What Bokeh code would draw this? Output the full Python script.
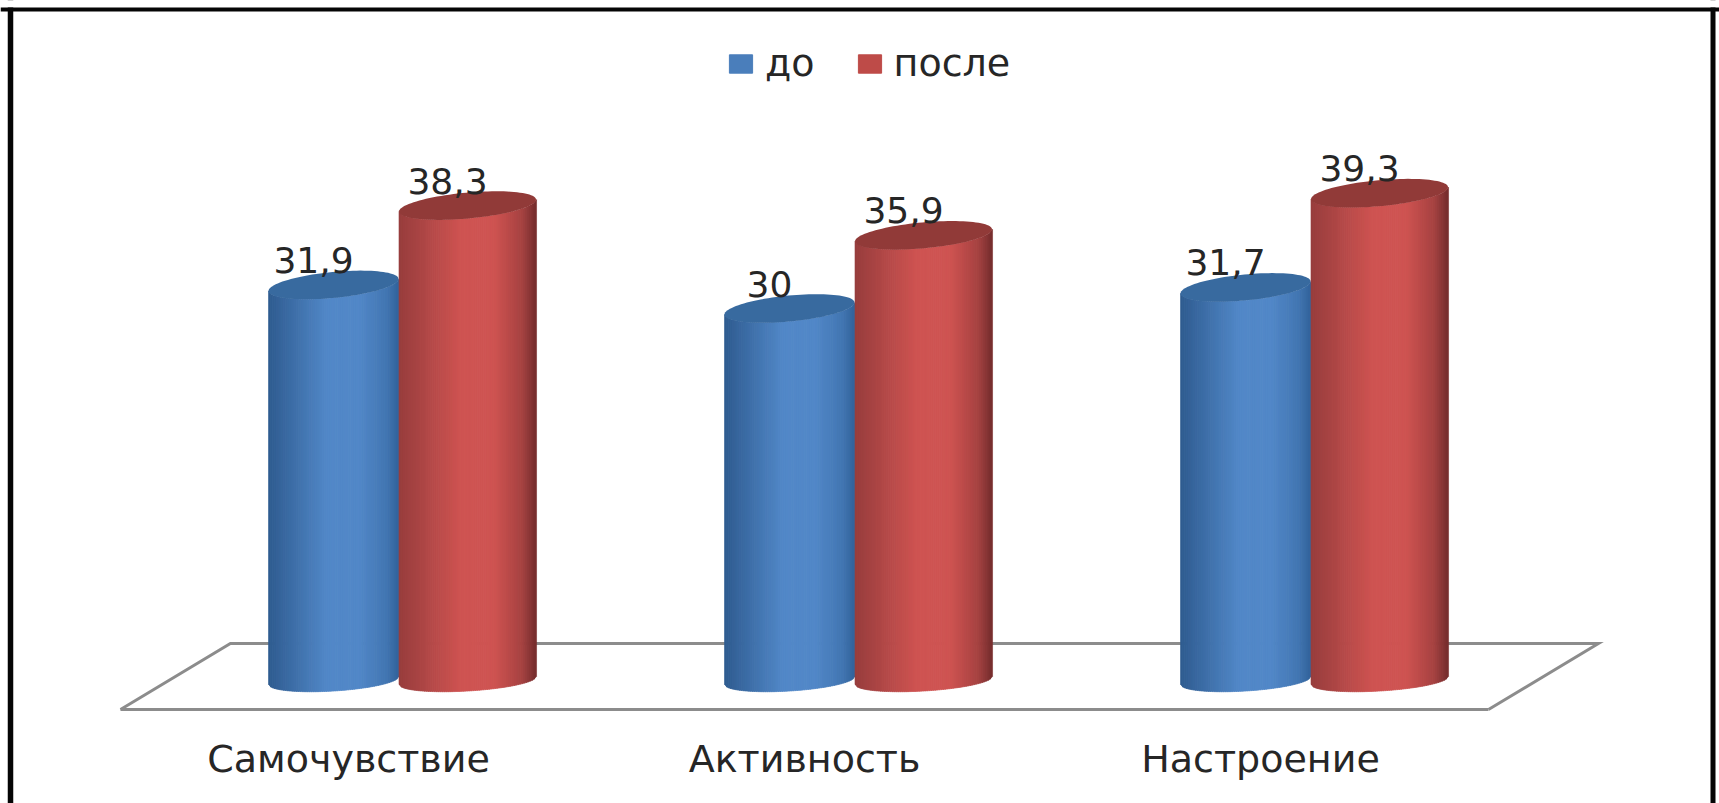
import numpy as np
from bokeh.plotting import figure
from bokeh.embed import file_html
from bokeh.resources import INLINE
from bokeh.models import (ColumnDataSource, FixedTicker, Legend, LegendItem,
                          LinearAxis, Range1d, Span)
from bokeh.core.properties import value

categories = ["Самочувствие", "Активность", "Настроение"]
before_values = [31.9, 30.0, 31.7]
after_values = [38.3, 35.9, 39.3]
before_labels = ["31,9", "30", "31,7"]
after_labels = ["38,3", "35,9", "39,3"]
series_names = ["до", "после"]

FONT = "DejaVu Sans"
W, H = 1719, 803
PX_PER_CAT = 456.0
PX_PER_VAL = 12.4
x0 = 348.0
y0 = 680.0

p = figure(
    width=W, height=H, output_backend="svg", toolbar_location=None,
    x_range=Range1d(-x0 / PX_PER_CAT, (W - x0) / PX_PER_CAT),
    y_range=Range1d(-(H - y0) / PX_PER_VAL, y0 / PX_PER_VAL),
    x_axis_type=None, y_axis_type=None,
    min_border=0, min_border_left=0, min_border_right=0,
    min_border_top=0, min_border_bottom=0,
    background_fill_color="white", border_fill_color="white",
    outline_line_color=None,
)
p.grid.visible = False

# page frame: three sides are visible, the strip above the top side stays white
for loc, dim, w, col in [(10, "height", 5.5, "#050505"), (1712.5, "height", 5, "#050505"),
                         (H - 3.5, "width", 7, "white"), (H - 9, "width", 4, "#050505")]:
    p.add_layout(Span(location=loc, location_units="screen", dimension=dim,
                      line_color=col, line_width=w))

# floor of the 3-D chart, in data units
FLOOR_FRONT = -29.0 / PX_PER_VAL
FLOOR_BACK = 37.0 / PX_PER_VAL
p.line([-0.5, -0.259, 2.741, 2.5], [FLOOR_FRONT, FLOOR_BACK, FLOOR_BACK, FLOOR_FRONT],
       line_color="#8c8c8c", line_width=3, line_join="miter")

# category axis sits on the front edge of the floor
axis = LinearAxis(fixed_location=FLOOR_FRONT, bounds=(-0.5, 2.5),
                  ticker=FixedTicker(ticks=[0, 1, 2]),
                  major_label_overrides={i: c for i, c in enumerate(categories)})
axis.axis_line_color = "#8c8c8c"
axis.axis_line_width = 3
axis.major_tick_line_color = None
axis.minor_tick_line_color = None
axis.major_label_standoff = 21
axis.major_label_text_font = FONT
axis.major_label_text_font_size = "38px"
axis.major_label_text_color = "#262626"
p.add_layout(axis, "below")

BLUE = dict(edge_l="#2f5c90", mid="#5288c8", edge_r="#33649c", top="#386a9f", center=-15 / 456, half=65.0 / 456)
RED = dict(edge_l="#983e3e", mid="#cf5452", edge_r="#752d2d", top="#913a38", center=119 / 456, half=68.5 / 456)
B_TOP, S_TOP = 13.0 / PX_PER_VAL, 6.0 / PX_PER_VAL
B_BOT, S_BOT = 10.5 / PX_PER_VAL, 4.0 / PX_PER_VAL


def hex2rgb(h):
    return np.array([int(h[i:i + 2], 16) for i in (1, 3, 5)], float)


def draw_cylinder(cat_idx, val, st):
    cx = cat_idx + st["center"]
    n = 70
    t = np.linspace(-1, 1, n + 1)
    xs_edge = cx + st["half"] * t
    arc = np.sqrt(np.clip(1 - t ** 2, 0, 1))
    y_top = val + S_TOP * t - B_TOP * arc
    y_bot = S_BOT * t - B_BOT * arc
    xs, ys, cols = [], [], []
    cl, cm, cr = hex2rgb(st["edge_l"]), hex2rgb(st["mid"]), hex2rgb(st["edge_r"])
    for i in range(n):
        xs.append([xs_edge[i], xs_edge[i + 1] + 0.0012, xs_edge[i + 1] + 0.0012, xs_edge[i]])
        ys.append([y_top[i], y_top[min(i + 1, n)], y_bot[min(i + 1, n)], y_bot[i]])
        u = (t[i] + t[i + 1]) / 2
        c = [np.interp(u, [-1, -0.1, 0.4, 0.8, 1],
                       [cl[k], cm[k], cm[k], 0.55 * cm[k] + 0.45 * cr[k], cr[k]]) for k in range(3)]
        cols.append("#%02x%02x%02x" % tuple(int(v) for v in c))
    p.patches(xs, ys, fill_color=cols, line_color=cols, line_width=0.6)
    th = np.linspace(0, 2 * np.pi, 100)
    p.patch(cx + st["half"] * np.cos(th),
            val + S_TOP * np.cos(th) + B_TOP * np.sin(th),
            fill_color=st["top"], line_color=None)


for i in range(len(categories)):
    draw_cylinder(i, before_values[i], BLUE)
    draw_cylinder(i, after_values[i], RED)

LABEL_DX = -20 / 456
LABEL_DY = 25.0 / PX_PER_VAL
src = ColumnDataSource(dict(
    x=[i + BLUE["center"] + LABEL_DX for i in range(3)] + [i + RED["center"] + LABEL_DX for i in range(3)],
    y=[v + LABEL_DY for v in before_values + after_values],
    t=before_labels + after_labels,
))
p.text("x", "y", text="t", source=src, text_align="center", text_baseline="alphabetic",
       text_font=value(FONT), text_font_size="36px", text_color="#262626")

# legend swatches: the marks themselves lie outside the visible range
r_blue = p.quad(left=[-90], right=[-89], top=[-90], bottom=[-91], fill_color="#4a7ebb", line_color="#4a7ebb")
r_red = p.quad(left=[-90], right=[-89], top=[-90], bottom=[-91], fill_color="#be4b48", line_color="#be4b48")
legend = Legend(items=[LegendItem(label=series_names[0], renderers=[r_blue]),
                       LegendItem(label=series_names[1], renderers=[r_red])],
                orientation="horizontal", location=(726, 718),
                glyph_width=29, glyph_height=23, label_text_font=FONT,
                label_text_font_size="38px", label_text_color="#262626",
                border_line_color=None, background_fill_alpha=0, spacing=40,
                padding=0, margin=0, label_standoff=10)
p.add_layout(legend)

open("out.html", "w").write(file_html(p, INLINE))
